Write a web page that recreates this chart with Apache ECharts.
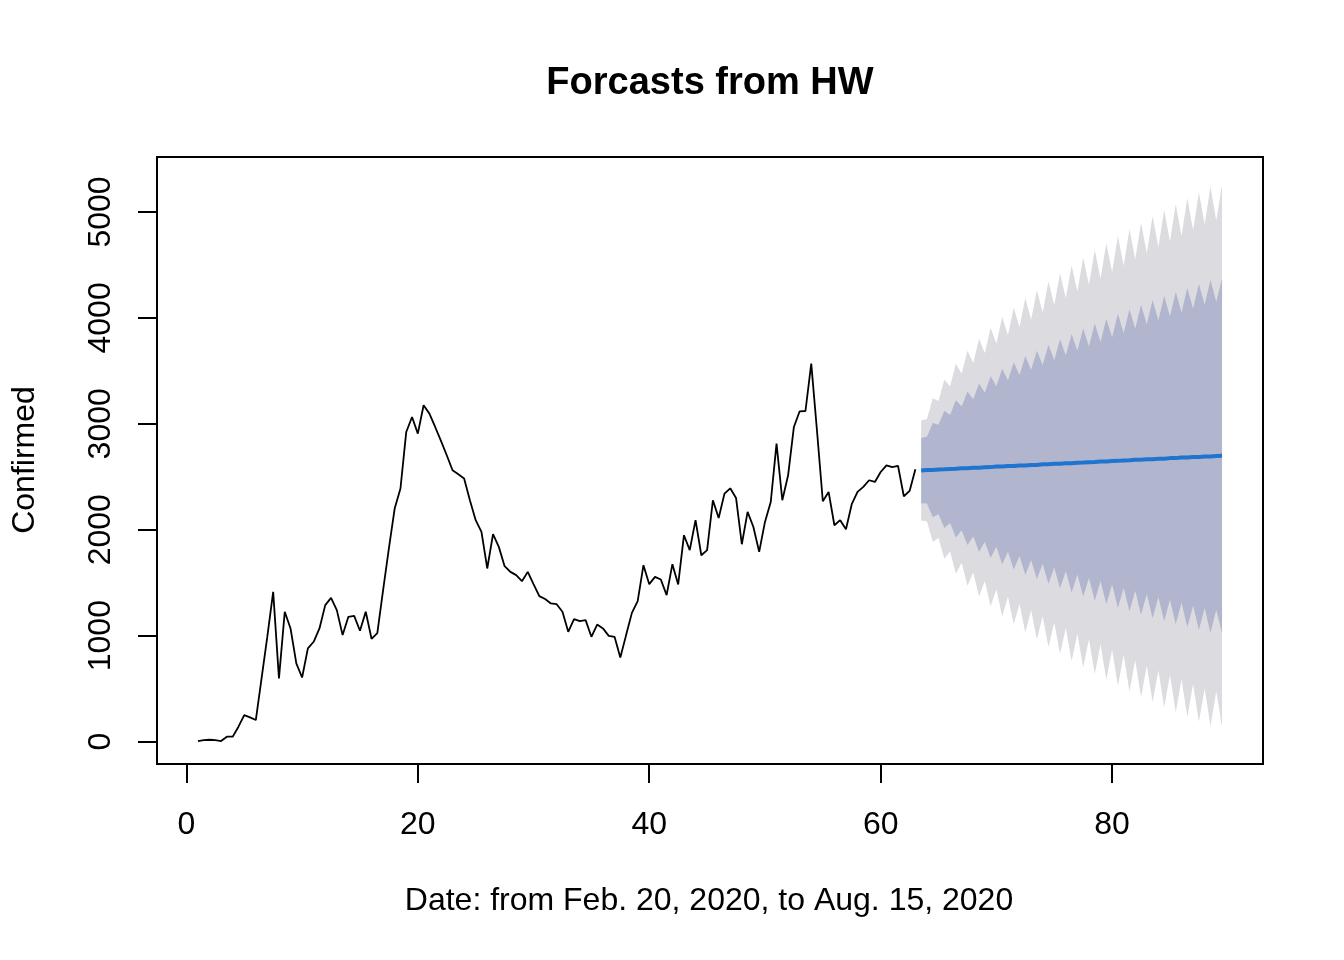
<!DOCTYPE html>
<html>
<head>
<meta charset="utf-8">
<title>Forcasts from HW</title>
<script src="https://cdn.jsdelivr.net/npm/echarts@6/dist/echarts.min.js"></script>
<style>
  html, body { margin: 0; padding: 0; background: #fff; }
  #main { width: 1344px; height: 960px; }
</style>
</head>
<body>
<div id="main"></div>
<script>
// observed series, half-unit steps starting at t = 1
const obsStart = 1;
const obsFreq = 2;
const confirmed = [
  5, 14, 17, 14, 5, 46, 46, 140, 250, 228, 203, 599, 995, 1413, 596, 1225, 1068, 738, 605, 879,
  942, 1068, 1288, 1357, 1241, 1005, 1178, 1187, 1046, 1225, 970, 1024, 1429, 1823, 2200, 2389, 2923, 3064, 2907, 3175,
  3096, 2970, 2838, 2703, 2561, 2524, 2483, 2278, 2090, 1980, 1634, 1958, 1838, 1656, 1602, 1571, 1514, 1602, 1486, 1373,
  1346, 1304, 1297, 1225, 1036, 1156, 1137, 1146, 989, 1105, 1068, 998, 989, 794, 1005, 1215, 1325, 1665, 1486, 1555,
  1530, 1382, 1675, 1483, 1948, 1807, 2090, 1759, 1807, 2278, 2111, 2341, 2391, 2300, 1863, 2168, 2026, 1791, 2074, 2262,
  2813, 2278, 2514, 2970, 3118, 3121, 3568, 2930, 2269, 2357, 2042, 2090, 2005, 2241, 2357, 2404, 2467, 2451, 2545, 2608,
  2592, 2602, 2316, 2366, 2571
];

// Holt-Winters forecast, starting at t = 63.5
const fcStart = 63.5;
const fcMean = [
  2559, 2563, 2564, 2569, 2570, 2574, 2575, 2580, 2580, 2585, 2586, 2590, 2591, 2596, 2596, 2601, 2602, 2606,
  2607, 2612, 2612, 2617, 2618, 2622, 2623, 2628, 2628, 2633, 2634, 2638, 2639, 2644, 2644, 2649, 2650, 2654,
  2655, 2660, 2660, 2665, 2666, 2670, 2671, 2676, 2676, 2681, 2682, 2686, 2687, 2692, 2692, 2697, 2698
];
const hi80 = [
  2867, 2878, 3007, 2992, 3123, 3084, 3223, 3164, 3305, 3231, 3381, 3293, 3450, 3354, 3519, 3409, 3579, 3460,
  3640, 3509, 3689, 3555, 3747, 3601, 3798, 3646, 3849, 3689, 3899, 3731, 3948, 3773, 3992, 3815, 4039, 3856,
  4081, 3897, 4124, 3938, 4168, 3976, 4207, 4014, 4245, 4050, 4282, 4087, 4321, 4124, 4358, 4150, 4370
];
const lo80 = [
  2251, 2248, 2121, 2146, 2017, 2064, 1927, 1996, 1855, 1939, 1791, 1887, 1732, 1838, 1673, 1793, 1625, 1752,
  1574, 1715, 1535, 1679, 1489, 1643, 1448, 1610, 1407, 1577, 1369, 1545, 1330, 1515, 1296, 1483, 1261, 1452,
  1229, 1423, 1196, 1392, 1164, 1364, 1135, 1338, 1107, 1312, 1082, 1285, 1053, 1260, 1026, 1244, 1026
];
const hi95 = [
  3030, 3045, 3242, 3216, 3415, 3354, 3566, 3473, 3689, 3573, 3802, 3665, 3905, 3755, 4008, 3836, 4096, 3912,
  4187, 3983, 4259, 4051, 4344, 4119, 4420, 4185, 4495, 4248, 4568, 4310, 4640, 4370, 4705, 4432, 4774, 4492,
  4836, 4552, 4899, 4611, 4962, 4667, 5019, 4722, 5075, 4774, 5129, 4828, 5186, 4882, 5240, 4918, 5255
];
const lo95 = [
  2088, 2081, 1886, 1922, 1725, 1794, 1584, 1687, 1471, 1597, 1370, 1515, 1277, 1437, 1184, 1366, 1108, 1300,
  1027, 1241, 965, 1183, 892, 1125, 826, 1071, 761, 1018, 700, 966, 638, 918, 583, 866, 526, 816,
  474, 768, 421, 719, 370, 673, 323, 630, 277, 588, 235, 544, 188, 502, 144, 476, 141
];

const xTicks = [0, 20, 40, 60, 80];
const yTicks = [0, 1000, 2000, 3000, 4000, 5000];

const FONT = "'Liberation Sans', Arial, sans-serif";

const obsData = confirmed.map((v, i) => [obsStart + i / obsFreq, v]);
const fcTime = fcMean.map((v, i) => fcStart + i / obsFreq);
const meanData = fcMean.map((v, i) => [fcTime[i], v]);

function bandSeries(name, upper, lower, color) {
  return {
    name: name,
    type: 'custom',
    silent: true,
    data: fcTime.map((t, i) => [t, upper[i], lower[i]]),
    encode: { x: 0, y: [1, 2] },
    renderItem: function (params, api) {
      if (params.dataIndex !== 0) return null;
      const pts = [];
      for (let i = 0; i < fcTime.length; i++) pts.push(api.coord([fcTime[i], upper[i]]));
      for (let i = fcTime.length - 1; i >= 0; i--) pts.push(api.coord([fcTime[i], lower[i]]));
      return {
        type: 'polygon',
        shape: { points: pts },
        style: { fill: color, stroke: null }
      };
    }
  };
}

var myChart = echarts.init(document.querySelector('#main'));

var option = {
  animation: false,
  backgroundColor: '#ffffff',
  title: {
    text: 'Forcasts from HW',
    left: 705,
    top: 60,
    textAlign: 'center',
    textStyle: { fontFamily: FONT, fontSize: 38, fontWeight: 'bold', color: '#000' }
  },
  grid: {
    left: 157, top: 157, width: 1106, height: 607,
    show: true, borderColor: '#000', borderWidth: 2, backgroundColor: 'transparent'
  },
  xAxis: {
    type: 'value',
    min: -2.54,
    max: 93.04,
    axisLine: { show: false, onZero: false },
    splitLine: { show: false },
    axisTick: {
      show: true, inside: false, length: 19, customValues: xTicks,
      lineStyle: { color: '#000', width: 2 }
    },
    axisLabel: {
      customValues: xTicks, margin: 45, color: '#000',
      fontFamily: FONT, fontSize: 32,
      formatter: function (v) { return String(v); }
    }
  },
  yAxis: {
    type: 'value',
    min: -212,
    max: 5519,
    axisLine: { show: false, onZero: false },
    splitLine: { show: false },
    axisTick: {
      show: true, inside: false, length: 19, customValues: yTicks,
      lineStyle: { color: '#000', width: 2 }
    },
    axisLabel: {
      customValues: yTicks, rotate: 90, margin: 40, color: '#000',
      fontFamily: FONT, fontSize: 32,
      formatter: function (v) { return String(v); }
    }
  },
  graphic: [
    {
      type: 'text', x: 709, y: 901, silent: true,
      style: { text: 'Date: from Feb. 20, 2020, to Aug. 15, 2020', font: '32px ' + FONT,
        fill: '#000', textAlign: 'center', textVerticalAlign: 'middle' }
    },
    {
      type: 'text', x: 25, y: 460, rotation: Math.PI / 2, silent: true,
      style: { text: 'Confirmed', font: '32px ' + FONT,
        fill: '#000', textAlign: 'center', textVerticalAlign: 'middle' }
    }
  ],
  series: [
    bandSeries('95%', hi95, lo95, '#DBDBE0'),
    bandSeries('80%', hi80, lo80, '#B1B5CE'),
    {
      name: 'Forecast',
      type: 'line',
      data: meanData,
      showSymbol: false,
      silent: true,
      lineStyle: { color: '#1F74CF', width: 4 }
    },
    {
      name: 'Confirmed',
      type: 'line',
      data: obsData,
      showSymbol: false,
      silent: true,
      lineStyle: { color: '#000', width: 1.8 }
    }
  ]
};

myChart.setOption(option);
</script>
</body>
</html>
